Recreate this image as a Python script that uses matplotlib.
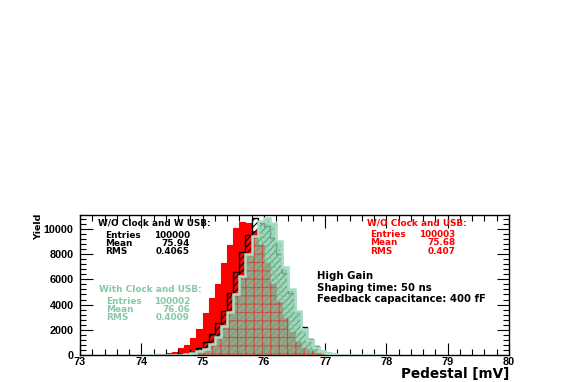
import numpy as np
import matplotlib
matplotlib.use("Agg")
import matplotlib.pyplot as plt
from matplotlib.ticker import MultipleLocator

# ---- data (bins of 0.1 mV starting at 74.0 mV) ----
bin_start = 74.0
bin_width = 0.1

# W/O Clock and USB (red, filled)
red_counts = [5, 15, 40, 90, 150, 210, 580, 780, 1320, 2100,
              3300, 4500, 5600, 7300, 8700, 10100, 10550, 10500, 9800, 8700,
              7300, 5600, 4200, 2900, 1800, 1050, 560, 280, 130, 55,
              22, 8, 3, 0, 0, 0, 0, 0, 0, 0]
# W/O Clock and W USB (black, hatched)
black_counts = [0, 0, 0, 5, 15, 30, 60, 110, 250, 540,
                1000, 1650, 2500, 3500, 4900, 6600, 8200, 9500, 10900, 10500,
                10200, 9300, 8000, 6500, 4900, 3400, 2200, 1300, 700, 340,
                150, 60, 20, 8, 0, 0, 0, 0, 0, 0]
# With Clock and USB (green)
green_counts = [0, 0, 0, 0, 5, 15, 35, 70, 150, 300,
                480, 850, 1400, 2300, 3400, 4800, 6300, 8000, 9400, 10600,
                10900, 10500, 9000, 7000, 5200, 3500, 2100, 1150, 600, 280,
                120, 50, 20, 8, 3, 0, 0, 0, 0, 0]

x_ticks = [73, 74, 75, 76, 77, 78, 79, 80]
y_ticks = [0, 2000, 4000, 6000, 8000, 10000]

stats_black = ("W/O Clock and W USB:", "100000", "75.94", "0.4065")
stats_green = ("With Clock and USB:", "100002", "76.06", "0.4009")
stats_red = ("W/O Clock and USB:", "100003", "75.68", "0.407")
info_lines = ["High Gain", "Shaping time: 50 ns", "Feedback capacitance: 400 fF"]

# ---- figure ----
W, H = 572, 382
fig = plt.figure(figsize=(W / 100, H / 100), dpi=100)
fig.patch.set_facecolor("white")

def fx(px):
    return px / W

def fy(py):
    return 1 - py / H

ax_l, ax_r, ax_t, ax_b = 80, 509, 215, 355
ax = fig.add_axes([fx(ax_l), fy(ax_b), fx(ax_r - ax_l), (ax_b - ax_t) / H])

n = len(red_counts)
edges = bin_start + bin_width * np.arange(n + 1)

RED = "#ff0000"
GREEN_FILL = "#86cda8"
GREEN_LINE = "#a8dec6"
GREEN_TXT = "#86c9a6"

plt.rcParams["hatch.linewidth"] = 0.8
ax.stairs(red_counts, edges, fill=True, facecolor=RED, edgecolor=RED, lw=0.8, zorder=1)
ax.stairs(black_counts, edges, fill=True, facecolor="none", edgecolor="black",
          hatch="/////", lw=0, zorder=2)
ax.stairs(black_counts, edges, fill=False, edgecolor="black", lw=1.0, zorder=2.1)
ax.stairs(green_counts, edges, fill=True, facecolor=GREEN_FILL, alpha=0.8,
          edgecolor="none", lw=0, zorder=3)
ax.stairs(np.minimum(red_counts, green_counts), edges, fill=True, facecolor="none",
          edgecolor="#e8302a", hatch="++", lw=0, zorder=3.5, alpha=0.85)
ax.stairs(green_counts, edges, fill=True, facecolor="none",
          edgecolor="#5fae88", hatch="....", lw=0, zorder=3.6, alpha=0.4)
ax.stairs(green_counts, edges, fill=False, edgecolor=GREEN_LINE, lw=1.8, zorder=4)

ax.set_xlim(73, 80)
ax.set_ylim(0, 11100)
ax.set_xticks(x_ticks)
ax.set_yticks(y_ticks)
ax.xaxis.set_minor_locator(MultipleLocator(0.2))
ax.yaxis.set_minor_locator(MultipleLocator(400))
ax.tick_params(which="both", direction="in", top=True, right=True)
ax.tick_params(which="major", length=9, width=0.8)
ax.tick_params(which="minor", length=4.5, width=0.8)
for sp in ax.spines.values():
    sp.set_linewidth(1.0)

tick_fam = ["Liberation Sans", "DejaVu Sans"]
fam = ["DejaVu Sans"]
for lab in ax.get_xticklabels() + ax.get_yticklabels():
    lab.set_fontsize(7.8)
    lab.set_fontweight("bold")
    lab.set_family(tick_fam)
ax.tick_params(axis="x", pad=1.2)
ax.tick_params(axis="y", pad=4.5)

fig.text(fx(39), fy(214), "Yield", rotation=90, ha="center", va="top",
         fontsize=6.8, fontweight="bold", family=fam)
fig.text(fx(509), fy(374.5), "Pedestal [mV]", ha="right", va="center",
         fontsize=9.8, fontweight="bold", family=fam)

fs = 6.4

def stat_block(x_title, y_title, x_lab, x_val, ys, stats, color):
    fig.text(fx(x_title), fy(y_title), stats[0], ha="left", va="center",
             fontsize=fs, fontweight="bold", color=color, family=fam)
    for lab, val, y in zip(["Entries", "Mean", "RMS"], stats[1:], ys):
        fig.text(fx(x_lab), fy(y), lab, ha="left", va="center",
                 fontsize=fs, fontweight="bold", color=color, family=fam)
        fig.text(fx(x_val), fy(y), val, ha="right", va="center",
                 fontsize=fs, fontweight="bold", color=color, family=fam)

stat_block(98, 223, 105, 190, [235, 243, 251], stats_black, "black")
stat_block(99, 289, 106, 190, [301, 309.5, 318], stats_green, GREEN_TXT)
stat_block(367, 223, 370, 455, [234.5, 242.5, 251], stats_red, RED)

for txt, y in zip(info_lines, [276, 288, 299.5]):
    fig.text(fx(317), fy(y), txt, ha="left", va="center",
             fontsize=7.3, fontweight="bold", color="black", family=fam)

fig.savefig("out.png", dpi=100, facecolor="white")
